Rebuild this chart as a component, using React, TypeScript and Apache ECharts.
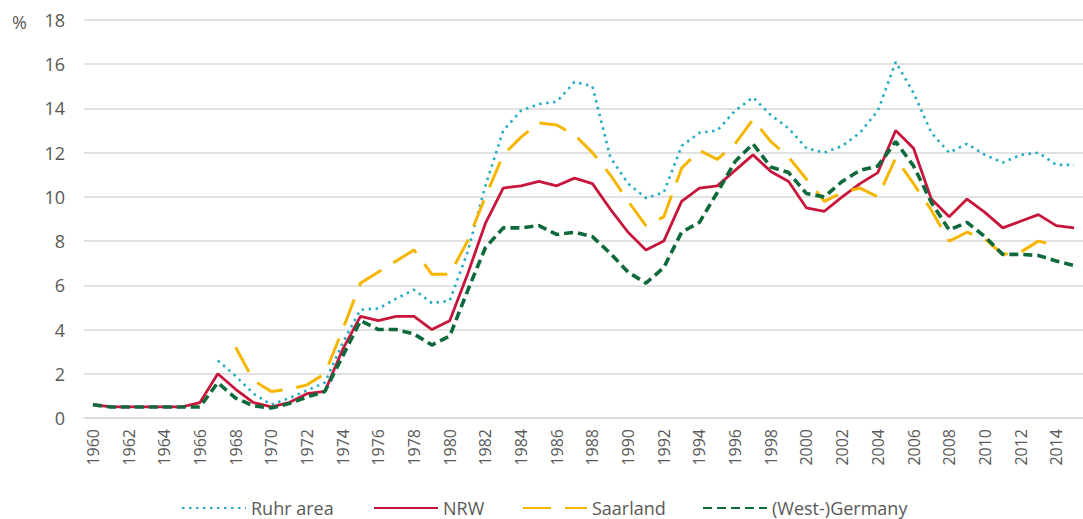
import React, { useEffect, useRef } from "react";
import * as echarts from "echarts";

const years: string[] = [];
for (let y = 1960; y <= 2015; y++) years.push(String(y));

const yTicks = { min: 0, max: 18, interval: 2 };

// 1960 ... 2015
const ruhr: (number | null)[] = [
  null, null, null, null, null, null, null, 2.6, 1.9, 1.1,
  0.6, 0.9, 1.25, 1.6, 3.4, 4.9, 4.95, 5.4, 5.8, 5.2,
  5.3, 7.5, 10.5, 13.0, 13.9, 14.2, 14.3, 15.2, 15.0, 11.8,
  10.6, 9.95, 10.2, 12.3, 12.9, 13.0, 13.9, 14.5, 13.7, 13.1,
  12.2, 12.0, 12.3, 12.9, 13.9, 16.1, 14.7, 12.9, 12.0, 12.4,
  11.9, 11.55, 11.9, 12.0, 11.45, 11.45,
];

const nrw: (number | null)[] = [
  0.6, 0.5, 0.5, 0.5, 0.5, 0.5, 0.7, 2.0, 1.3, 0.7,
  0.5, 0.7, 1.1, 1.2, 3.1, 4.6, 4.4, 4.6, 4.6, 4.0,
  4.4, 6.5, 8.8, 10.4, 10.5, 10.7, 10.5, 10.85, 10.6, 9.45,
  8.4, 7.6, 8.0, 9.8, 10.4, 10.5, 11.2, 11.9, 11.15, 10.7,
  9.5, 9.35, 10.0, 10.6, 11.1, 13.0, 12.2, 9.9, 9.1, 9.9,
  9.3, 8.6, 8.9, 9.2, 8.7, 8.6,
];

const saarland: (number | null)[] = [
  null, null, null, null, null, null, null, null, 3.2, 1.7,
  1.2, 1.3, 1.5, 2.0, 4.0, 6.1, 6.6, 7.1, 7.6, 6.5,
  6.5, 8.0, 10.0, 11.9, 12.7, 13.35, 13.25, 12.8, 12.0, 11.0,
  9.8, 8.7, 9.1, 11.3, 12.1, 11.7, 12.4, 13.5, 12.5, 11.8,
  10.8, 9.8, 10.2, 10.4, 10.0, 11.75, 10.6, 9.4, 8.0, 8.4,
  8.1, 7.4, 7.5, 8.0, 7.8, null,
];

const germany: (number | null)[] = [
  0.6, 0.5, 0.5, 0.5, 0.5, 0.5, 0.5, 1.6, 0.9, 0.55,
  0.45, 0.65, 0.95, 1.2, 2.8, 4.4, 4.0, 4.0, 3.8, 3.3,
  3.7, 5.75, 7.7, 8.6, 8.6, 8.7, 8.3, 8.4, 8.2, 7.45,
  6.6, 6.1, 6.8, 8.4, 8.85, 10.2, 11.6, 12.4, 11.35, 11.1,
  10.15, 10.0, 10.7, 11.2, 11.4, 12.5, 11.4, 9.75, 8.5, 8.85,
  8.2, 7.4, 7.4, 7.35, 7.1, 6.9,
];

const seriesNames = ["Ruhr area", "NRW", "Saarland", "(West-)Germany"];

const FONT = "'Open Sans', sans-serif";
const TEXT = "#595959";

export default function App() {
  const ref = useRef<HTMLDivElement>(null);
  useEffect(() => {
    if (!ref.current) return;
    const chart = echarts.init(ref.current, undefined, { renderer: "svg" });
    const legendLefts = [176, 368, 517, 697];
    chart.setOption({
      animation: false,
      textStyle: { fontFamily: FONT },
      grid: { left: 84, right: -15, top: 20, bottom: 101 },
      legend: seriesNames.map((n, i) => ({
        data: [n],
        left: legendLefts[i],
        top: 494,
        itemWidth: 64,
        itemHeight: 14,
        itemStyle: { opacity: 0 },
        textStyle: { fontSize: 18, color: TEXT, fontFamily: FONT },
      })),
      graphic: [
        {
          type: "text",
          left: 12,
          top: 13,
          style: { text: "%", fontSize: 18, fill: TEXT, fontFamily: FONT },
        },
      ],
      xAxis: {
        type: "category",
        data: years,
        boundaryGap: true,
        axisLine: { show: true, lineStyle: { color: "#d9d9d9", width: 1.5 } },
        axisTick: { show: false },
        axisLabel: {
          interval: 1,
          rotate: 90,
          fontSize: 16,
          color: TEXT,
          margin: 11,
          fontFamily: FONT,
        },
      },
      yAxis: {
        type: "value",
        min: yTicks.min,
        max: yTicks.max,
        interval: yTicks.interval,
        axisLine: { show: false },
        axisTick: { show: false },
        splitLine: { lineStyle: { color: "#d9d9d9", width: 1.5 } },
        axisLabel: { fontSize: 18, color: TEXT, margin: 19, fontFamily: FONT },
      },
      series: [
        {
          name: seriesNames[0],
          type: "line",
          data: ruhr,
          symbol: "none",
          color: "#22adc4",
          lineStyle: { width: 2.6, type: [2.5, 4.5], color: "#22adc4" },
        },
        {
          name: seriesNames[1],
          type: "line",
          data: nrw,
          symbol: "none",
          color: "#c8153c",
          lineStyle: { width: 2.8, color: "#c8153c" },
        },
        {
          name: seriesNames[2],
          type: "line",
          data: saarland,
          symbol: "none",
          color: "#f6b600",
          lineStyle: { width: 3, type: [28, 14], color: "#f6b600" },
        },
        {
          name: seriesNames[3],
          type: "line",
          data: germany,
          symbol: "none",
          color: "#0e6a3b",
          lineStyle: { width: 3.6, type: [9, 5], color: "#0e6a3b" },
        },
      ],
    });
    return () => chart.dispose();
  }, []);
  return (
    <div
      ref={ref}
      style={{ position: "fixed", left: 0, top: 0, width: 1083, height: 519, background: "#fff" }}
    />
  );
}
